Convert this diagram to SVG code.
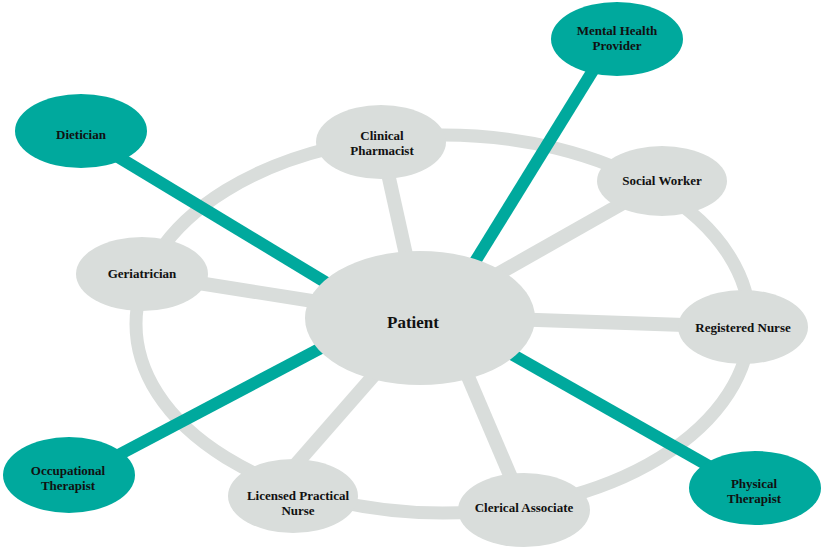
<svg xmlns="http://www.w3.org/2000/svg" width="825" height="551" viewBox="0 0 825 551">
<style>
.g{fill:#d9dddb}
.t{fill:#00a99d}
.ring{fill:none;stroke:#d9dddb;stroke-width:13}
.sp{stroke:#d9dddb;stroke-width:14;stroke-linecap:butt}
.tl{stroke:#00a99d;stroke-width:12;stroke-linecap:butt}
text{font-family:"Liberation Serif","Times New Roman",serif;font-weight:bold;font-size:13px;fill:#111;text-anchor:middle}
.big{font-size:17px}
</style>
<rect width="825" height="551" fill="#fff"/>
<g id="connectors">
<ellipse class="ring" cx="443" cy="324" rx="307" ry="189"/>
<line class="sp" x1="142" y1="274" x2="420" y2="318"/>
<line class="sp" x1="381" y1="142" x2="420" y2="318"/>
<line class="sp" x1="662" y1="181" x2="420" y2="318"/>
<line class="sp" x1="743" y1="327" x2="420" y2="316"/>
<line class="sp" x1="443" y1="318" x2="524" y2="508"/>
<line class="sp" x1="424" y1="318" x2="291" y2="470"/>
<line class="tl" x1="100" y1="146" x2="345" y2="294"/>
<line class="tl" x1="605" y1="51" x2="460" y2="286"/>
<line class="tl" x1="90" y1="470" x2="340" y2="338"/>
<line class="tl" x1="490" y1="342" x2="730" y2="478"/>
</g>
<g id="patient"><ellipse class="g" cx="420" cy="318" rx="115" ry="67"/><text class="big" x="413" y="328">Patient</text></g>
<g id="dietician"><ellipse class="t" cx="81" cy="131" rx="66" ry="37"/><text x="81" y="139">Dietician</text></g>
<g id="mental-health"><ellipse class="t" cx="617" cy="39" rx="66" ry="37"/><text x="617" y="35">Mental Health</text><text x="617" y="50">Provider</text></g>
<g id="clinical-pharmacist"><ellipse class="g" cx="381" cy="142" rx="65" ry="37"/><text x="382" y="140">Clinical</text><text x="382" y="155">Pharmacist</text></g>
<g id="social-worker"><ellipse class="g" cx="662" cy="181" rx="65" ry="35"/><text x="662" y="185">Social Worker</text></g>
<g id="geriatrician"><ellipse class="g" cx="142" cy="274" rx="66" ry="37"/><text x="142" y="278">Geriatrician</text></g>
<g id="registered-nurse"><ellipse class="g" cx="743" cy="327" rx="65" ry="37"/><text x="743" y="332">Registered Nurse</text></g>
<g id="physical-therapist"><ellipse class="t" cx="755" cy="488" rx="66" ry="37"/><text x="754" y="488">Physical</text><text x="754" y="503">Therapist</text></g>
<g id="clerical-associate"><ellipse class="g" cx="524" cy="510" rx="66" ry="37"/><text x="524" y="512">Clerical Associate</text></g>
<g id="lpn"><ellipse class="g" cx="293" cy="496" rx="65" ry="37"/><text x="298" y="500">Licensed Practical</text><text x="298" y="515">Nurse</text></g>
<g id="occupational-therapist"><ellipse class="t" cx="69" cy="475" rx="66" ry="38"/><text x="68" y="475">Occupational</text><text x="68" y="490">Therapist</text></g>
</svg>
